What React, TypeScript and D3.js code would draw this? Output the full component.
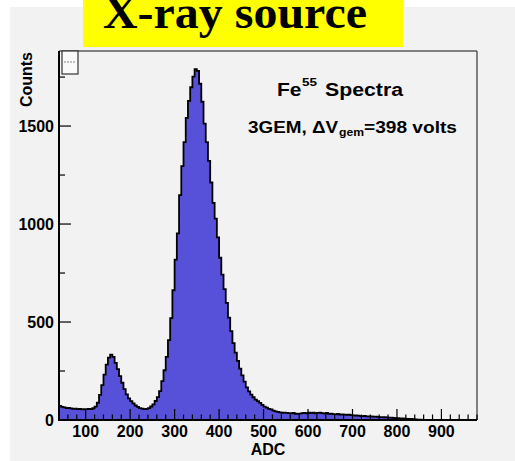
import React from "react";
import * as d3 from "d3";

const binLow = 40;
const binWidth = 5;
const counts: number[] = [
  72, 67, 64, 61, 62, 59, 57, 58, 55, 57, 54, 56,
  55, 57, 56, 60, 68, 88, 128, 178, 232, 283, 318, 334,
  322, 292, 260, 224, 190, 158, 131, 110, 96, 85, 74, 67,
  61, 58, 55, 57, 61, 69, 80, 97, 117, 147, 198, 254,
  322, 408, 520, 662, 818, 952, 1148, 1296, 1418, 1542, 1628, 1698,
  1752, 1790, 1782, 1716, 1624, 1512, 1418, 1322, 1212, 1108, 1028, 932,
  828, 742, 668, 598, 522, 454, 392, 344, 302, 262, 228, 196,
  166, 146, 130, 116, 104, 96, 87, 77, 68, 63, 57, 54,
  48, 44, 41, 39, 37, 38, 36, 35, 34, 36, 32, 31,
  33, 35, 36, 34, 37, 35, 38, 34, 36, 37, 35, 33,
  36, 31, 32, 30, 29, 31, 28, 29, 27, 26, 27, 25,
  24, 23, 22, 21, 20, 21, 19, 18, 18, 17, 17, 16,
  15, 15, 14, 13, 12, 12, 11, 10, 9, 8, 8, 7,
  6, 6, 5, 4, 3, 2, 2, 1, 1, 1,
  0, 0, 0, 0, 0, 0, 0, 0, 0, 0, 0, 0, 0, 0, 0, 0, 0, 0, 0, 0, 0, 0,
];
const xDomain = [40, 980];
const yDomain = [0, 1883];
const xMajorTicks = [100, 200, 300, 400, 500, 600, 700, 800, 900];
const xMinorStep = 20;
const yMajorTicks = [0, 500, 1000, 1500];
const yMinorTicks = [250, 750, 1250, 1750];

const L = 59, R = 477, T = 51, B = 420;
const FILL = "#5750d8";
const SANS = "'Liberation Sans', Arial, Helvetica, sans-serif";

export default function App() {
  const x = d3.scaleLinear().domain(xDomain).range([L, R]);
  const y = d3.scaleLinear().domain(yDomain).range([B, T]);

  const steps: [number, number][] = [];
  counts.forEach((c, i) => {
    const a = binLow + i * binWidth;
    steps.push([a, c]);
  });
  steps.push([binLow + counts.length * binWidth, counts[counts.length - 1]]);

  const area = d3
    .area<[number, number]>()
    .x((d) => x(d[0]))
    .y0(y(0))
    .y1((d) => y(d[1]))
    .curve(d3.curveStepAfter);
  const line = d3
    .line<[number, number]>()
    .x((d) => x(d[0]))
    .y((d) => y(d[1]))
    .curve(d3.curveStepAfter);

  const minor = d3.range(xDomain[0], xDomain[1] + 0.1, xMinorStep).filter((v) => v % 100 !== 0 && v > xDomain[0]);

  return (
    <svg width={515} height={461} style={{ position: "absolute", left: 0, top: 0, display: "block" }}>
      <rect x={0} y={0} width={515} height={461} fill="#ffffff" />
      <rect x={10} y={7} width={505} height={454} fill="#f2f2f2" />
      <rect x={83} y={0} width={320} height={47} fill="#ffff00" />
      <text x={103} y={28} fontFamily="'Liberation Serif', 'Times New Roman', serif" fontWeight="bold" fontSize={46} textLength={264} lengthAdjust="spacingAndGlyphs" fill="#000">X-ray source</text>

      <path d={area(steps) || ""} fill={FILL} />
      <path d={line(steps) || ""} fill="none" stroke="#000" strokeWidth={1.8} />

      {/* frame */}
      <line x1={L} y1={T} x2={R} y2={T} stroke="#5a5a5a" strokeWidth={1.5} />
      <line x1={R} y1={T} x2={R} y2={B} stroke="#5a5a5a" strokeWidth={1.5} />

      {/* x ticks */}
      {xMajorTicks.map((v) => (
        <line key={"xM" + v} x1={x(v)} x2={x(v)} y1={B} y2={B - 11} stroke="#000" strokeWidth={1.2} />
      ))}
      {minor.map((v) => (
        <line key={"xm" + v} x1={x(v)} x2={x(v)} y1={B} y2={B - 5.5} stroke="#000" strokeWidth={1.2} />
      ))}
      {/* y ticks */}
      {yMajorTicks.map((v) => (
        <line key={"yM" + v} x1={L} x2={L + 12} y1={y(v)} y2={y(v)} stroke="#000" strokeWidth={1.2} />
      ))}
      {yMinorTicks.map((v) => (
        <line key={"ym" + v} x1={L} x2={L + 6} y1={y(v)} y2={y(v)} stroke="#000" strokeWidth={1.2} />
      ))}

      <line x1={L} y1={T} x2={L} y2={B + 1} stroke="#000" strokeWidth={2} />
      <line x1={L - 1} y1={B} x2={R} y2={B} stroke="#000" strokeWidth={2} />

      {/* tick labels */}
      {xMajorTicks.map((v) => (
        <text key={"xl" + v} x={x(v)} y={437} textAnchor="middle" fontFamily={SANS} fontWeight="bold" fontSize={16} fill="#000">{v}</text>
      ))}
      {yMajorTicks.map((v) => (
        <text key={"yl" + v} x={54} y={y(v)} dy="0.36em" textAnchor="end" fontFamily={SANS} fontWeight="bold" fontSize={16} fill="#000">{v}</text>
      ))}

      <text x={(L + R) / 2} y={455} textAnchor="middle" fontFamily={SANS} fontWeight="bold" fontSize={16} fill="#000">ADC</text>
      <text transform="translate(32,52) rotate(-90)" textAnchor="end" fontFamily={SANS} fontWeight="bold" fontSize={16} fill="#000">Counts</text>

      {/* small stats box */}
      <rect x={62} y={51} width={16} height={23} fill="#fafafa" stroke="#333" strokeWidth={1.2} />
      <line x1={64} x2={76} y1={62} y2={62} stroke="#888" strokeWidth={1} strokeDasharray="2,1" />

      {/* pave text */}
      <text x={277} y={96} fontFamily={SANS} fontWeight="bold" fontSize={18} textLength={24.5} lengthAdjust="spacingAndGlyphs" fill="#000">Fe</text>
      <text x={302} y={86} fontFamily={SANS} fontWeight="bold" fontSize={11} textLength={15} lengthAdjust="spacingAndGlyphs" fill="#000">55</text>
      <text x={325} y={96} fontFamily={SANS} fontWeight="bold" fontSize={18} textLength={78} lengthAdjust="spacingAndGlyphs" fill="#000">Spectra</text>

      <text x={248} y={133} fontFamily={SANS} fontWeight="bold" fontSize={17} textLength={90} lengthAdjust="spacingAndGlyphs" fill="#000">3GEM, ΔV</text>
      <text x={339} y={136} fontFamily={SANS} fontWeight="bold" fontSize={11} textLength={25} lengthAdjust="spacingAndGlyphs" fill="#000">gem</text>
      <text x={364} y={133} fontFamily={SANS} fontWeight="bold" fontSize={17} textLength={93} lengthAdjust="spacingAndGlyphs" fill="#000">=398 volts</text>
    </svg>
  );
}
